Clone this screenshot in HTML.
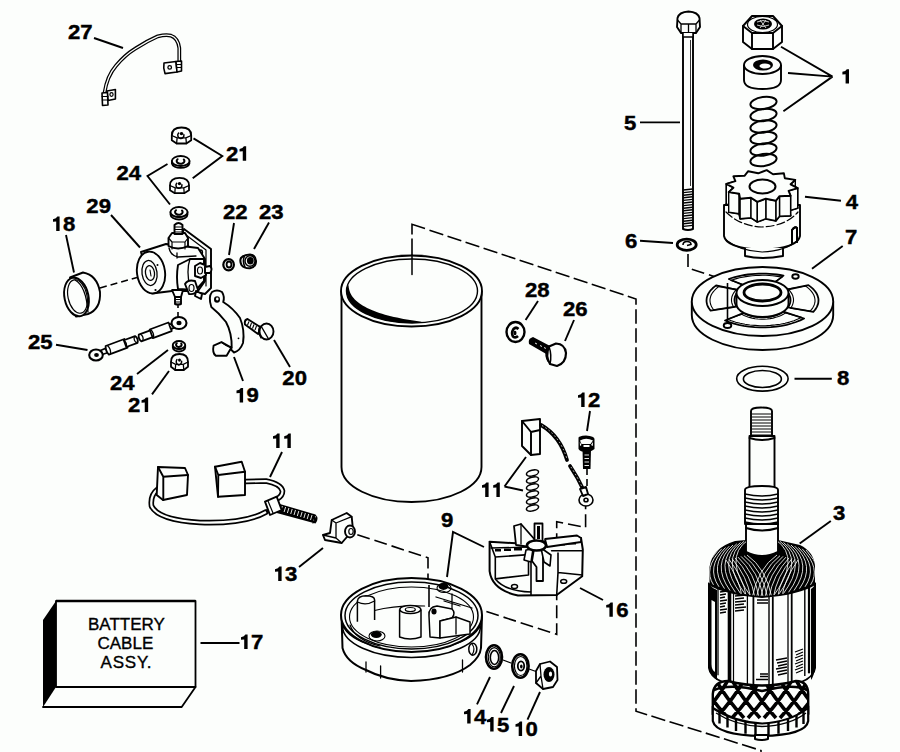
<!DOCTYPE html>
<html><head><meta charset="utf-8">
<style>
html,body{margin:0;padding:0;background:#fcfefc;width:900px;height:752px;overflow:hidden}
svg{display:block}
.lb{font-family:"Liberation Sans",sans-serif;font-weight:bold;font-size:21.5px;fill:#000;stroke:#000;stroke-width:0.45}
.bx{font-family:"Liberation Sans",sans-serif;font-size:17px;fill:#000;stroke:#000;stroke-width:0.35}
.s{fill:none;stroke:#000;stroke-width:1.9;stroke-linejoin:round;stroke-linecap:round}
.w{fill:#fcfefc;stroke:#000;stroke-width:1.9;stroke-linejoin:round}
.t{fill:none;stroke:#000;stroke-width:1}
.k{fill:#000;stroke:none}
.d{fill:none;stroke:#000;stroke-width:1.6}
.ld{fill:none;stroke:#000;stroke-width:1.9;stroke-linecap:butt}
</style></head><body>
<svg width="900" height="752" viewBox="0 0 900 752">
<!-- DASHED -->
<g class="d">
<path d="M412,274.5 L412,238.5"/>
<path d="M412,234.5 L412,224.3 L425,228.6"/>
<path d="M429.5,230.2 L636,299 L636,711.2 L761,750.5 L761,760" stroke-dasharray="14.5 4.5"/>
<path d="M688,254 L688,268 L727.6,281 L727.6,327" stroke-dasharray="13 5"/>
<path d="M100,288 L137,277.5" stroke-dasharray="7 4"/>
<path d="M178,302 L178,318" stroke-dasharray="6 4"/>
<path d="M357.3,534.7 L428,557.8 L428,612" stroke-dasharray="13 5"/>
<path d="M435,595 L556.7,634.3 L556.7,521.7 L585.6,527.4 L585.6,505" stroke-dasharray="13 5"/>
<path d="M587,468 L587,492" stroke-dasharray="7 4"/>
</g>
<!-- RIGHT COLUMN -->
<g id="bolt5">
<path class="w" d="M683,33 L683,229 Q688,231 693,229 L693,33 Z"/>
<path stroke="#000" stroke-width="1.4" fill="none" d="M683.5,190.0 L692.5,189.0 M683.5,192.6 L692.5,191.6 M683.5,195.2 L692.5,194.2 M683.5,197.8 L692.5,196.8 M683.5,200.4 L692.5,199.4 M683.5,203.0 L692.5,202.0 M683.5,205.6 L692.5,204.6 M683.5,208.2 L692.5,207.2 M683.5,210.8 L692.5,209.8 M683.5,213.4 L692.5,212.4 M683.5,216.0 L692.5,215.0 M683.5,218.6 L692.5,217.6 M683.5,221.2 L692.5,220.2 M683.5,223.8 L692.5,222.8 M683.5,226.4 L692.5,225.4 "/>
<path stroke="#000" stroke-width="0.8" fill="none" d="M690.5,40 L690.5,186"/>
<path class="w" d="M677.5,18 Q679,12 688.5,11.5 Q698,12 699.5,18 L700,27 L696,33 L681,33 L677,27 Z"/>
<path class="s" style="stroke-width:1.3" d="M677.5,20 L681,24 L696,24 L699.5,20 M681,24 L681,33 M696,24 L696,33 M688.5,24 L688.5,33"/>
<path class="w" style="stroke-width:1.5" d="M683,33 L683,37 L693,37 L693,33"/>
</g>
<g id="nut1">
<path class="w" d="M743,26 L752,16 L773,16 L782,26 L782,42 L773,49 L752,49 L743,42 Z"/>
<path class="s" d="M743,26 L752,33 L773,33 L782,26 M752,33 L752,49 M773,33 L773,49"/>
<ellipse class="s" cx="762.5" cy="24.5" rx="15" ry="8" style="stroke-width:1.2"/>
<ellipse class="k" cx="763" cy="24" rx="9" ry="5.5"/>
<path d="M757,22 q6,-3 12,0 M757,25 q6,3 12,0 M760,20 l6,8 M766,20 l-6,8" stroke="#fcfefc" stroke-width="0.8" fill="none"/>
</g>
<g id="spacer1">
<path class="w" d="M744,65 L744,80 Q744,89 762.5,89 Q781,89 781,80 L781,65"/>
<ellipse class="w" cx="762.5" cy="65" rx="18.5" ry="9"/>
<ellipse cx="763" cy="65" rx="10" ry="5.5" fill="#000"/>
<ellipse cx="765" cy="66" rx="5.5" ry="2.6" fill="#fcfefc"/>
</g>
<g id="spring1" class="s">
<ellipse cx="763.5" cy="103.0" rx="13.2" ry="6" transform="rotate(-8 763.5 103.0)"/>
<ellipse cx="763.5" cy="115.0" rx="13.2" ry="6" transform="rotate(-8 763.5 115.0)"/>
<ellipse cx="763.5" cy="126.5" rx="13.2" ry="6" transform="rotate(-8 763.5 126.5)"/>
<ellipse cx="763.5" cy="138.0" rx="13.2" ry="6" transform="rotate(-8 763.5 138.0)"/>
<ellipse cx="763.5" cy="149.5" rx="13.2" ry="6" transform="rotate(-8 763.5 149.5)"/>
<ellipse cx="763.5" cy="160.0" rx="13.2" ry="6" transform="rotate(-8 763.5 160.0)"/>
</g>
<g id="pinion4">
<path class="w" d="M724,205 L724,236 Q726,248 762,250 Q798,248 800,236 L800,205 Z"/>
<path class="w" d="M745,248 L745,256 Q762,260 783,256 L783,248"/>
<path class="s" style="stroke-width:1.2" d="M726,240 Q740,251 762,252 Q786,251 798,240"/>
<path class="s" d="M792,230 L792,244 M797,228 L797,242 M792,230 Q795,226 797,228"/>
<polygon class="w" points="766.7,190.1 773.0,194.2 783.9,193.3 784.8,198.2 795.3,199.9 790.6,204.3 797.7,208.1 788.6,210.9 790.6,215.7 779.5,216.2 775.8,220.8 765.8,218.7 757.3,221.9 751.0,217.8 740.1,218.7 739.2,213.8 728.7,212.1 733.4,207.7 726.3,203.9 735.4,201.1 733.4,196.3 744.5,195.8 748.2,191.2 758.2,193.3"/>
<polygon class="w" style="stroke-width:1.4" points="795.3,179.9 790.6,184.3 790.6,204.3 795.3,199.9"/>
<polygon class="w" style="stroke-width:1.4" points="726.3,183.9 735.4,181.1 735.4,201.1 726.3,203.9"/>
<polygon class="w" style="stroke-width:1.4" points="733.4,187.7 726.3,183.9 726.3,203.9 733.4,207.7"/>
<polygon class="w" style="stroke-width:1.4" points="790.6,184.3 797.7,188.1 797.7,208.1 790.6,204.3"/>
<polygon class="w" style="stroke-width:1.4" points="797.7,188.1 788.6,190.9 788.6,210.9 797.7,208.1"/>
<polygon class="w" style="stroke-width:1.4" points="728.7,192.1 733.4,187.7 733.4,207.7 728.7,212.1"/>
<polygon class="w" style="stroke-width:1.4" points="739.2,193.8 728.7,192.1 728.7,212.1 739.2,213.8"/>
<polygon class="w" style="stroke-width:1.4" points="788.6,190.9 790.6,195.7 790.6,215.7 788.6,210.9"/>
<polygon class="w" style="stroke-width:1.4" points="790.6,195.7 779.5,196.2 779.5,216.2 790.6,215.7"/>
<polygon class="w" style="stroke-width:1.4" points="740.1,198.7 739.2,193.8 739.2,213.8 740.1,218.7"/>
<polygon class="w" style="stroke-width:1.4" points="751.0,197.8 740.1,198.7 740.1,218.7 751.0,217.8"/>
<polygon class="w" style="stroke-width:1.4" points="779.5,196.2 775.8,200.8 775.8,220.8 779.5,216.2"/>
<polygon class="w" style="stroke-width:1.4" points="775.8,200.8 765.8,198.7 765.8,218.7 775.8,220.8"/>
<polygon class="w" style="stroke-width:1.4" points="757.3,201.9 751.0,197.8 751.0,217.8 757.3,221.9"/>
<polygon class="w" style="stroke-width:1.4" points="765.8,198.7 757.3,201.9 757.3,221.9 765.8,218.7"/>
<polygon class="w" points="766.7,170.1 773.0,174.2 783.9,173.3 784.8,178.2 795.3,179.9 790.6,184.3 797.7,188.1 788.6,190.9 790.6,195.7 779.5,196.2 775.8,200.8 765.8,198.7 757.3,201.9 751.0,197.8 740.1,198.7 739.2,193.8 728.7,192.1 733.4,187.7 726.3,183.9 735.4,181.1 733.4,176.3 744.5,175.8 748.2,171.2 758.2,173.3"/>
<ellipse class="s" cx="762.5" cy="186.5" rx="13" ry="7" style="stroke-width:2"/>
<path class="s" style="stroke-width:1.2" stroke-dasharray="8 3" d="M726,212 Q740,226 762,227 Q786,226 798,212"/>
<path class="s" d="M792,230 L792,244 M797,228 L797,242 M792,230 Q795,226 797,228"/>
</g>
<g id="washer6">
<ellipse fill="#fcfefc" stroke="#000" stroke-width="2.8" cx="686.7" cy="244.7" rx="9.5" ry="5.6"/>
<path fill="none" stroke="#000" stroke-width="1.6" d="M683,245 Q683,241.5 687,241.5 Q691,241.5 691,244.5 L687,245.5"/>
</g>
<g id="plate7">
<path class="w" d="M691.8,301.5 L691.8,315 A70.7,35 0 0 0 833.2,315 L833.2,301.5"/>
<ellipse class="w" cx="762.5" cy="301.5" rx="70.7" ry="34.5"/>
<polygon fill="none" stroke="#000" stroke-width="1.8" stroke-linejoin="round" points="808.4,285.1 810.4,286.6 812.2,288.1 813.8,289.7 815.1,291.3 816.3,293.0 817.2,294.7 817.8,296.4 818.3,298.2 818.5,299.9 818.4,301.7 818.2,303.4 817.6,305.2 816.9,306.9 815.9,308.6 814.7,310.2 813.3,311.9 787.9,307.3 788.6,306.3 789.2,305.2 789.7,304.1 790.1,303.0 790.3,301.9 790.5,300.8 790.5,299.6 790.4,298.5 790.2,297.4 789.8,296.2 789.4,295.1 788.8,294.1 788.1,293.0 787.3,292.0 786.4,291.0 785.4,290.0"/>
<polygon fill="none" stroke="#000" stroke-width="1.1" stroke-linejoin="round" points="805.5,286.0 807.4,287.4 809.1,288.9 810.6,290.4 811.8,291.9 812.9,293.4 813.8,295.0 814.4,296.7 814.8,298.3 815.0,300.0 815.0,301.6 814.7,303.2 814.2,304.9 813.5,306.5 812.6,308.1 811.4,309.6 810.1,311.1 790.6,308.1 791.4,307.0 792.1,305.8 792.6,304.6 793.0,303.3 793.3,302.1 793.5,300.8 793.5,299.6 793.4,298.3 793.1,297.1 792.8,295.8 792.3,294.6 791.6,293.4 790.9,292.3 790.0,291.1 789.0,290.0 787.9,289.0"/>
<polygon fill="none" stroke="#000" stroke-width="1.8" stroke-linejoin="round" points="804.1,318.5 800.2,320.4 796.0,322.0 791.4,323.5 786.6,324.8 781.5,325.8 776.3,326.6 770.9,327.1 765.4,327.3 759.9,327.4 754.5,327.1 749.1,326.6 743.8,325.8 738.7,324.8 733.9,323.6 729.3,322.1 725.0,320.5 743.8,312.9 745.9,314.0 748.2,314.9 750.6,315.7 753.2,316.4 755.8,316.9 758.5,317.2 761.2,317.3 764.0,317.3 766.7,317.2 769.4,316.8 772.0,316.3 774.6,315.7 777.0,314.9 779.3,313.9 781.4,312.8 783.3,311.6"/>
<polygon fill="none" stroke="#000" stroke-width="1.1" stroke-linejoin="round" points="801.5,317.4 797.9,319.1 793.9,320.7 789.6,322.1 785.1,323.2 780.3,324.2 775.4,324.9 770.4,325.4 765.2,325.7 760.1,325.7 755.0,325.4 749.9,325.0 745.0,324.3 740.2,323.3 735.7,322.2 731.4,320.8 727.4,319.2 741.8,314.3 744.1,315.5 746.6,316.5 749.3,317.4 752.2,318.1 755.1,318.7 758.1,319.0 761.1,319.2 764.1,319.2 767.1,319.0 770.1,318.6 773.0,318.1 775.8,317.3 778.5,316.5 781.0,315.4 783.4,314.2 785.5,312.9"/>
<polygon fill="none" stroke="#000" stroke-width="1.8" stroke-linejoin="round" points="710.6,310.6 709.4,309.0 708.4,307.5 707.6,305.9 707.0,304.2 706.7,302.6 706.5,301.0 706.6,299.3 706.8,297.7 707.3,296.1 707.9,294.5 708.8,292.9 709.9,291.3 711.1,289.8 712.6,288.3 714.2,286.9 716.1,285.5 739.3,290.3 738.4,291.2 737.6,292.1 736.8,293.1 736.2,294.1 735.7,295.1 735.2,296.1 734.9,297.1 734.7,298.2 734.5,299.2 734.5,300.3 734.6,301.4 734.8,302.4 735.1,303.5 735.5,304.5 735.9,305.5 736.5,306.5"/>
<polygon fill="none" stroke="#000" stroke-width="1.1" stroke-linejoin="round" points="713.8,309.9 712.7,308.5 711.8,307.0 711.1,305.5 710.5,304.0 710.2,302.5 710.0,300.9 710.0,299.4 710.3,297.9 710.7,296.3 711.3,294.8 712.2,293.3 713.2,291.9 714.4,290.5 715.7,289.1 717.3,287.7 719.0,286.4 736.8,289.3 735.8,290.2 734.9,291.3 734.1,292.3 733.4,293.4 732.8,294.5 732.3,295.7 731.9,296.8 731.7,298.0 731.5,299.2 731.5,300.3 731.6,301.5 731.8,302.7 732.1,303.8 732.6,305.0 733.1,306.1 733.8,307.2"/>
<polygon fill="none" stroke="#000" stroke-width="1.8" stroke-linejoin="round" points="728.8,279.0 731.7,278.0 734.8,277.1 738.0,276.3 741.3,275.6 744.7,275.0 748.1,274.5 751.6,274.1 755.2,273.8 758.8,273.7 762.4,273.6 766.0,273.7 769.6,273.8 773.1,274.1 776.6,274.5 780.1,275.0 783.5,275.6 773.0,283.9 771.3,283.5 769.6,283.2 767.8,283.0 766.0,282.8 764.2,282.7 762.4,282.6 760.6,282.7 758.8,282.8 757.1,283.0 755.3,283.2 753.6,283.5 751.9,283.9 750.3,284.4 748.7,284.9 747.1,285.5 745.6,286.1"/>
<polygon fill="none" stroke="#000" stroke-width="1.1" stroke-linejoin="round" points="730.9,280.4 733.7,279.4 736.5,278.6 739.5,277.8 742.6,277.2 745.8,276.6 749.0,276.1 752.3,275.8 755.6,275.5 759.0,275.4 762.4,275.3 765.8,275.3 769.1,275.5 772.5,275.8 775.8,276.1 779.0,276.6 782.2,277.1 774.1,282.2 772.2,281.8 770.3,281.4 768.4,281.1 766.4,280.9 764.4,280.8 762.4,280.8 760.4,280.8 758.5,280.9 756.5,281.1 754.5,281.4 752.6,281.8 750.8,282.2 748.9,282.7 747.2,283.3 745.5,283.9 743.8,284.7"/>
<path class="w" d="M736.5,293 L736.5,304 A26,13 0 0 0 788.5,304 L788.5,293"/>
<ellipse class="w" cx="762.5" cy="293" rx="26" ry="13"/>
<ellipse cx="762.5" cy="292.5" rx="18.5" ry="8.5" fill="#fcfefc" stroke="#000" stroke-width="2.8"/>
<ellipse class="s" cx="795.5" cy="276.5" rx="3.2" ry="2.2"/>
<ellipse class="s" cx="727.5" cy="325.5" rx="3.8" ry="2.5"/>
<path class="d" d="M727.5,283 L727.5,323"/>
</g>
<g id="washer8">
<path fill="#fcfefc" stroke="#000" stroke-width="1.6" fill-rule="evenodd" d="M736.7,378.7 A25.7,12.4 0 1 0 788.1,378.7 A25.7,12.4 0 1 0 736.7,378.7 Z M743.4,379 A19,8.5 0 1 0 781.4,379 A19,8.5 0 1 0 743.4,379 Z"/>
</g>
<g id="armature3">
<path class="w" d="M751,411 Q751,407.5 761,407.5 Q772,407.5 772,411 L772,438 L751,438 Z"/>
<path class="t" d="M752,414 h19M752,417 h19M752,420 h19M752,423 h19M752,426 h19M752,429 h19M752,432 h19M752,435 h19"/>
<path class="w" d="M749.5,436 L749.5,487 L774.5,487 L774.5,436 Z"/>
<path class="s" d="M749.5,438 Q762,442 774.5,438"/>
<path class="w" d="M745,490 Q745,486 762,486 Q778,486 778,490 L778,524 L745,524 Z"/>
<path class="s" style="stroke-width:1.4" d="M745,494 Q762,498 778,494 M745,498 Q762,502 778,498 M745,502 Q762,506 778,502 M745,506 Q762,510 778,506 M745,510 Q762,514 778,510 M745,514 Q762,518 778,514 M745,518 Q762,522 778,518 M745,522 Q762,526 778,522 "/>
<path class="w" d="M746,524 L746,556 L778,556 L778,524 Z"/>
<path class="s" d="M746,528 Q762,533 778,528"/>
<path class="k" d="M709.5,590 L709.5,567 Q712,548 735,541 L746,540 Q746,550 746,552 Q762,560 778,552 L778,540 L800,545 Q814,552 815,566 L815,590 Q800,596 762,597 Q724,596 709.5,590 Z"/>
<clipPath id="domeclip"><path d="M709.5,590 L709.5,567 Q712,548 735,541 L746,540 Q746,550 746,552 Q762,560 778,552 L778,540 L800,545 Q814,552 815,566 L815,590 Q800,596 762,597 Q724,596 709.5,590 Z"/></clipPath>
<path clip-path="url(#domeclip)" stroke="#fcfefc" stroke-width="0.85" fill="none" d="M748.0,540.0 Q722.0,558.0 752.0,598.0 M744.2,541.2 Q719.2,559.5 746.5,596.1 M740.5,542.5 Q716.5,561.0 741.0,594.2 M736.8,543.8 Q713.8,562.5 735.5,592.4 M733.0,545.0 Q711.0,564.0 730.0,590.5 M729.2,546.2 Q708.2,565.5 724.5,588.6 M725.5,547.5 Q705.5,567.0 719.0,586.8 M721.8,548.8 Q702.8,568.5 713.5,584.9 M718.0,550.0 Q700.0,570.0 708.0,583.0 M747.0,555.0 Q766.0,568.0 772.0,598.0 M744.0,555.7 Q762.3,569.7 767.7,597.9 M741.0,556.4 Q758.6,571.4 763.4,597.7 M738.0,557.1 Q754.9,573.1 759.1,597.6 M735.0,557.9 Q751.1,574.9 754.9,597.4 M732.0,558.6 Q747.4,576.6 750.6,597.3 M729.0,559.3 Q743.7,578.3 746.3,597.1 M726.0,560.0 Q740.0,580.0 742.0,597.0 M777.0,555.0 Q758.0,568.0 752.0,598.0 M780.0,555.7 Q761.7,569.7 756.3,597.9 M783.0,556.4 Q765.4,571.4 760.6,597.7 M786.0,557.1 Q769.1,573.1 764.9,597.6 M789.0,557.9 Q772.9,574.9 769.1,597.4 M792.0,558.6 Q776.6,576.6 773.4,597.3 M795.0,559.3 Q780.3,578.3 777.7,597.1 M798.0,560.0 Q784.0,580.0 782.0,597.0 M776.0,540.0 Q802.0,558.0 772.0,598.0 M779.8,541.2 Q804.8,559.5 777.5,596.1 M783.5,542.5 Q807.5,561.0 783.0,594.2 M787.2,543.8 Q810.2,562.5 788.5,592.4 M791.0,545.0 Q813.0,564.0 794.0,590.5 M794.8,546.2 Q815.8,565.5 799.5,588.6 M798.5,547.5 Q818.5,567.0 805.0,586.8 M802.2,548.8 Q821.2,568.5 810.5,584.9 M806.0,550.0 Q824.0,570.0 816.0,583.0"/>
<path class="s" d="M746,552 Q762,560 778,552" style="stroke-width:2"/>
<path fill="#fcfefc" stroke="#000" stroke-width="2" d="M709,584 L709,668 Q711,686 762,689 Q813,686 815,668 L815,584 Q800,594 762,597 Q724,594 709,584 Z"/>
<path class="k" d="M709,584 Q712,588 717,590 L717,680 Q710,676 709,668 Z"/>
<path fill="#fcfefc" d="M711.5,600 L715,602 L715,672 Q711.5,670 711.5,664 Z"/>
<path class="k" d="M811,589 Q814,587 815,584 L815,668 Q814,676 811,680 Z"/>
<path d="M718.0,588.0 L718.0,675.2" stroke="#000" stroke-width="1.3"/>
<path d="M729.5,592.1 L729.5,681.5" stroke="#000" stroke-width="3.6"/>
<path d="M733.5,593.2 L733.5,683.2" stroke="#000" stroke-width="1.2"/>
<path d="M747.4,596.0 L747.4,687.5" stroke="#000" stroke-width="1.3"/>
<path d="M753.4,596.7 L753.4,688.5" stroke="#000" stroke-width="1.8"/>
<path d="M769.0,596.8 L769.0,688.7" stroke="#000" stroke-width="1.4"/>
<path d="M772.8,596.5 L772.8,688.2" stroke="#000" stroke-width="1.8"/>
<path d="M788.0,593.9 L788.0,684.2" stroke="#000" stroke-width="1.3"/>
<path d="M791.7,592.9 L791.7,682.7" stroke="#000" stroke-width="1.8"/>
<path d="M804.8,588.5 L804.8,676.0" stroke="#000" stroke-width="1.4"/>
<path d="M809.0,586.8 L809.0,673.3" stroke="#000" stroke-width="2.2"/>
<path stroke="#000" stroke-width="1.3" fill="none" d="M720,592 L727,591 M720,595 L726,594 M720,598 L725,597 M720,601 L727,600 M720,604 L726,603 M720,607 L725,606 M720,610 L727,609 M720,613 L726,612 M735,596 L746,595 M735,599 L744,598 M735,602 L746,601 M735,605 L744,604 M735,608 L746,607 M735,611 L744,610 M757,600 h11 M757,603 h11 M795,652 L803,649 M796,655 L803,652 M795,658 L803,655 M796,661 L803,658 M795,664 L803,661 M796,667 L803,664 M795,670 L803,667 M796,673 L803,670 M776,660 L787,658 M777,663 L787,661 M778,666 L787,664 M776,669 L787,667 M777,672 L787,670 M778,675 L787,673 M760,674 h8 M760,676.5 h8 M756,679.5 h12"/>
<path fill="#fcfefc" stroke="#000" stroke-width="2.4" d="M712.8,694 Q714,681 728,681 Q762,690 796,681 Q808,681 808.2,694 L808.2,714 Q790,727 762,729 Q734,727 712.8,714 Z"/>
<clipPath id="commclip"><path d="M712.8,694 Q714,681 728,681 Q762,690 796,681 Q808,681 808.2,694 L808.2,714 Q790,727 762,729 Q734,727 712.8,714 Z"/></clipPath>
<path clip-path="url(#commclip)" stroke="#000" stroke-width="3.6" fill="none" d="M620.0,680 Q629.0,697 648.0,718 M648.0,680 Q639.0,697 620.0,718 M636.0,680 Q645.0,697 664.0,718 M664.0,680 Q655.0,697 636.0,718 M652.0,680 Q661.0,697 680.0,718 M680.0,680 Q671.0,697 652.0,718 M668.0,680 Q677.0,697 696.0,718 M696.0,680 Q687.0,697 668.0,718 M684.0,680 Q693.0,697 712.0,718 M712.0,680 Q703.0,697 684.0,718 M700.0,680 Q709.0,697 728.0,718 M728.0,680 Q719.0,697 700.0,718 M716.0,680 Q725.0,697 744.0,718 M744.0,680 Q735.0,697 716.0,718 M732.0,680 Q741.0,697 760.0,718 M760.0,680 Q751.0,697 732.0,718 M748.0,680 Q757.0,697 776.0,718 M776.0,680 Q767.0,697 748.0,718 M764.0,680 Q773.0,697 792.0,718 M792.0,680 Q783.0,697 764.0,718 M780.0,680 Q789.0,697 808.0,718 M808.0,680 Q799.0,697 780.0,718 M796.0,680 Q805.0,697 824.0,718 M824.0,680 Q815.0,697 796.0,718 M812.0,680 Q821.0,697 840.0,718 M840.0,680 Q831.0,697 812.0,718 M828.0,680 Q837.0,697 856.0,718 M856.0,680 Q847.0,697 828.0,718"/>
<path class="s" style="stroke-width:2.6" d="M714,690 Q730,683 762,691 Q794,683 807,690"/>
<path fill="#fcfefc" stroke="#000" stroke-width="2.2" d="M712.8,708 L712.8,721 Q716,735 762,736 Q806,735 808.2,721 L808.2,708 Q790,722 762,723.5 Q734,722 712.8,708 Z"/>
<path stroke="#000" stroke-width="2.4" fill="none" d="M719.5,711.0 L719.5,723.5 M727.5,715.1 L727.5,727.6 M736.0,718.5 L736.0,731.0 M745.5,721.2 L745.5,733.7 M755.5,722.7 L755.5,735.2 M768.5,722.7 L768.5,735.2 M778.5,721.2 L778.5,733.7 M788.0,718.5 L788.0,731.0 M796.5,715.1 L796.5,727.6 M803.5,711.6 L803.5,724.1"/>
<path fill="none" stroke="#000" stroke-width="1.3" d="M716,713 Q735,725.5 762,726.5 Q790,725.5 806,713"/>
<path class="w" style="stroke-width:2" d="M755,735 L755,739 Q761,741 768,739 L768,735 Z"/>
</g>
<!-- MIDDLE -->
<g id="frame">
<path class="w" d="M341.5,291 L341.5,467 A70,35 0 0 0 481.5,467 L481.5,291"/>
<ellipse class="w" cx="411.5" cy="291" rx="70.5" ry="35.5"/>
<ellipse style="stroke-width:1.4" class="s" cx="412" cy="291" rx="65.5" ry="32"/>
<path class="k" d="M347.9,284.3 L347.3,286.1 L346.8,287.8 L346.6,289.5 L346.5,291.2 L346.6,293.0 L346.9,294.7 L347.5,296.4 L348.2,298.1 L349.0,299.8 L350.1,301.5 L351.4,303.1 L352.8,304.7 L354.4,306.2 L356.2,307.7 L358.1,309.2 L360.2,310.6 L362.5,311.9 L364.9,313.2 L367.4,314.4 L370.1,315.6 L372.9,316.7 L375.8,317.7 L378.8,318.6 L381.9,319.4 L385.1,320.2 L388.4,320.9 L391.8,321.4 L395.2,321.9 L398.6,322.3 L402.1,322.6 L405.7,322.8 L409.2,323.0 L412.8,323.0 L416.3,322.9 L419.9,322.8 L423.4,322.5 L423.4,322.5 L420.0,321.4 L416.6,320.9 L413.3,320.4 L410.0,320.0 L406.7,319.4 L403.4,318.9 L400.2,318.3 L397.0,317.6 L393.9,317.0 L390.9,316.2 L387.9,315.5 L385.0,314.7 L382.1,313.8 L379.4,312.9 L376.7,312.0 L374.2,311.0 L371.7,310.0 L369.4,309.0 L367.1,307.9 L365.0,306.8 L363.0,305.7 L361.1,304.5 L359.3,303.3 L357.7,302.0 L356.2,300.8 L354.8,299.4 L353.6,298.1 L352.5,296.7 L351.5,295.3 L350.7,293.8 L350.1,292.4 L349.5,290.8 L349.1,289.3 L348.8,287.7 L348.6,286.1 L347.9,284.3 Z"/>
<path style="stroke-width:1.5" class="s" d="M412,274.5 L412,255"/>
</g>
<g id="endcap">
<path class="w" style="stroke-width:2" d="M341.5,615 L342.5,648 Q346,662 366,670 Q385,680 411,681 Q450,680 470,665 Q480,657 481,648 L482,615"/>
<path class="s" style="stroke-width:1.5" d="M342,620 A69.5,31 0 0 0 481,620 M342.5,626 A69,31.5 0 0 0 480.5,626"/>
<path class="s" style="stroke-width:1.3" d="M366,662 L366,672 M380.6,666 L380.6,678 M462.5,660 L462.5,672"/>
<ellipse class="w" style="stroke-width:2" cx="411.5" cy="615" rx="70.5" ry="37"/>
<ellipse class="s" cx="411.5" cy="615.5" rx="66.5" ry="33.5" style="stroke-width:1.5"/>
<ellipse class="s" cx="411.5" cy="617" rx="62" ry="30" style="stroke-width:1.1"/>
<path class="s" style="stroke-width:1.2" d="M374.6,610.5 Q395,605 424.6,606 M350,625 Q355,640 380,646"/>
<path class="w" style="stroke-width:1.5" d="M357.4,621.7 L357.4,601 Q358,596 366,595.8 Q374.6,596 374.6,600 L374.6,620"/>
<path class="s" style="stroke-width:1.2" d="M357.4,602 Q366,606 374.6,601"/>
<path class="s" style="stroke-width:1.3" d="M436,597 L472,608 M452,594 L452,612 M444,601 L460,606"/>
<path class="w" style="stroke-width:1.5" d="M429,616 Q428,607 437,606 L452,609 Q456,613 452,618 L440,621 L440,638 L430,637 Z"/>
<path class="w" style="stroke-width:1.5" d="M440,621 L456,617 L470,622 L470,634 L440,638 Z"/>
<path class="s" style="stroke-width:1.3" d="M456,617 L456,634"/>
<ellipse class="k" cx="434" cy="611.5" rx="2.6" ry="3"/>
<path class="w" style="stroke-width:1.5" d="M399.6,609.5 L399.6,637 Q410,641 421,637 L421,609.5"/>
<ellipse class="w" cx="410.3" cy="609.5" rx="10.5" ry="4" style="stroke-width:1.5"/>
<ellipse class="s" cx="410.3" cy="609.5" rx="5" ry="2" style="stroke-width:1.2"/>
<ellipse class="k" cx="443.5" cy="586.4" rx="5" ry="3.5"/>
<ellipse class="s" cx="444" cy="588" rx="7" ry="4.5" style="stroke-width:1.1"/>
<ellipse class="k" cx="376.3" cy="634.6" rx="5.5" ry="3.5"/>
<ellipse class="s" cx="377" cy="636" rx="8" ry="5" style="stroke-width:1.1"/>
<ellipse class="w" cx="472.8" cy="649.2" rx="4" ry="6" style="stroke-width:1.5"/>
<path class="s" style="stroke-width:1.2" d="M472,644 Q476,649 472,655"/>
<path class="d" d="M429,585 L429,607"/>
</g>
<g id="brushplate16">
<path class="w" style="stroke-width:2" d="M489.6,541.8 L489.6,571.2 Q492,590 518,595.5 L556.7,595 L582.2,576.3 L582.8,549.5 L581,538 L549,541 L523.4,543.7 Z"/>
<path class="s" style="stroke-width:1.6" d="M489.6,541.8 L495.3,557 L495.3,578.9 M495.3,557 L528.5,554.6 L528.5,575 L495.3,578.9 M551.6,550.8 L582.2,550.8 M558,553 L558,572.5 L582.2,575 M495.3,578.9 Q505,591 531,592 M558,572.5 L556.7,595 M531,557 L531,595"/>
<path class="s" style="stroke-width:1.3" d="M491,548 L530,547 M546,545 L581,541"/>
<path class="k" d="M495,549 h6 v2.5 h-6 Z M504,548.5 h7 v2.5 h-7 Z M514,548 h8 v2.5 h-8 Z M558,543 h7 v2.5 h-7 Z M568,542 h8 v2.5 h-8 Z"/>
<path class="w" style="stroke-width:1.8" d="M514,526 L521,524 L536,541 L530,547 L516,545 Z"/>
<path class="s" style="stroke-width:1.3" d="M521,524 L521,544"/>
<path class="w" style="stroke-width:1.8" d="M534.5,523.5 L542.5,523.5 L542.5,541 L534.5,541 Z"/>
<path class="k" d="M537,526 h3 v13 h-3 Z"/>
<path class="w" style="stroke-width:1.8" d="M545,539 L577,535.5 L581,538 L581,542 L547,547 Z"/>
<path class="w" style="stroke-width:1.8" d="M534,549 L543,549 L543,581 L536.5,581 L536.5,567 L532,561 Z"/>
<path class="w" style="stroke-width:1.6" d="M541,548 L551,555 L550,566 L544,562 Z"/>
<path class="w" style="stroke-width:1.6" d="M526,550 L533,549 L531,562 L524,560 Z"/>
<ellipse cx="536.5" cy="545.5" rx="9.5" ry="5" fill="#fcfefc" stroke="#000" stroke-width="2.6"/>
<ellipse class="s" cx="514.5" cy="586.5" rx="3" ry="2" style="stroke-width:1.5"/>
<ellipse class="s" cx="563.7" cy="581.4" rx="3" ry="1.8" style="stroke-width:1.5"/>
</g>
<g id="washers">
<path class="s" d="M503,660 L511,663 M529,669 L536,671.5" style="stroke-width:1.3"/>
<ellipse fill="#fcfefc" stroke="#000" stroke-width="2.6" cx="494" cy="657" rx="8" ry="11.8"/>
<ellipse fill="none" stroke="#000" stroke-width="1.1" cx="494.3" cy="657.2" rx="6" ry="9.6"/>
<ellipse fill="#fcfefc" stroke="#000" stroke-width="1.6" cx="494.5" cy="657.5" rx="4.2" ry="7"/>
<ellipse fill="#fcfefc" stroke="#000" stroke-width="2.6" cx="520.4" cy="666" rx="8.2" ry="11.7"/>
<ellipse fill="none" stroke="#000" stroke-width="1.2" cx="520.7" cy="666" rx="6.3" ry="9.5"/>
<ellipse fill="#fcfefc" stroke="#000" stroke-width="1.8" cx="521" cy="666" rx="3.2" ry="4.6"/>
<ellipse fill="#000" cx="521.3" cy="666.5" rx="1.3" ry="2"/>
<path class="w" style="stroke-width:1.8" d="M536,671 L540,664 L550,661.5 L557,667 L557.5,680 L553,687 L543,689 L536,683 Z"/>
<path class="s" style="stroke-width:1.3" d="M540,664 L541,676 L536,683 M541,676 L543,689"/>
<ellipse class="k" cx="549" cy="674.5" rx="5.5" ry="7.5"/>
<ellipse fill="#fcfefc" cx="550.5" cy="674" rx="1.6" ry="2.6"/>
</g>
<g id="p28">
<ellipse class="w" cx="515.5" cy="332" rx="9" ry="10" style="stroke-width:2.4"/>
<path fill="none" stroke="#000" stroke-width="2.6" d="M518.5,329 Q516,326.5 513.5,329 Q511,333 513,336.5 Q515.5,338.5 518,336"/>
<ellipse class="k" cx="515" cy="333" rx="1.5" ry="2.2"/>
</g>
<g id="p26">
<path class="k" d="M531,338 Q528,339 529,344 L548,355 L552,347 L533,337 Z"/>
<path d="M535,343 l2,1 M540,345.5 l2,1 M544,347.5 l2,1" stroke="#fcfefc" stroke-width="0.9"/>
<path class="w" style="stroke-width:2.2" d="M549,346.5 L556,343.5 Q565,344 566,353 Q566,363 557,366 L550,364 Q545,356 549,346.5 Z"/>
<path class="s" style="stroke-width:1.5" d="M549,346.5 Q552,355 550,364 M546.5,349 Q545,356 548,361"/>
</g>
<g id="brush12">
<path class="w" d="M522,421 L540,419 L540,454 L531,455 L522,446 Z"/>
<path class="s" d="M522,421 L531,432 L540,430 M531,432 L531,455"/>
<path d="M541,425 Q560,436 567,460 M570,466 Q578,478 583,489" stroke="#000" stroke-width="3.8" fill="none" stroke-linecap="round"/>
<path d="M542,425.5 Q560,436 567,459 M571,467 Q578,478 582.5,488" stroke="#fcfefc" stroke-width="0.8" fill="none" stroke-dasharray="1.5 2.5"/>
<path fill="#fcfefc" stroke="#000" stroke-width="1.6" fill-rule="evenodd" d="M579,500 A7,6 0 1 0 593,500 A7,6 0 1 0 579,500 Z M584,500 A2,1.8 0 1 0 588,500 A2,1.8 0 1 0 584,500 Z"/>
<path class="w" d="M580,489 L586,487 L588,494 L583,496 Z"/>
<path class="k" d="M582.5,449 L591,449 L590.5,469 L583,469 Z"/>
<path d="M584.5,455 h4.5 M584.5,458.5 h4.5 M584.5,462 h4.5 M584.5,465.5 h4.5" stroke="#fcfefc" stroke-width="0.9"/>
<path class="k" d="M578.5,438 Q578,436 586,435.5 Q594.5,436 594.5,439 L594.5,449 Q591,452 586,452 Q580,452 578.5,449 Z"/>
<path fill="#fcfefc" d="M580,440.5 Q586,436.8 593,440.5 L590.5,444 L581.5,444 Z M583.5,445 L589.5,445 L589.5,447 L583.5,447 Z M579.8,442 L581.5,445 L580,446 Z M593,442 L591,445 L592.8,446 Z"/>
</g>
<g id="spring11" style="stroke-width:1.5" class="s">
<ellipse cx="532.5" cy="473.0" rx="6.2" ry="2.9" transform="rotate(-14 532.5 473.0)"/>
<ellipse cx="532.5" cy="480.0" rx="6.2" ry="2.9" transform="rotate(-14 532.5 480.0)"/>
<ellipse cx="532.5" cy="487.0" rx="6.2" ry="2.9" transform="rotate(-14 532.5 487.0)"/>
<ellipse cx="532.5" cy="494.0" rx="6.2" ry="2.9" transform="rotate(-14 532.5 494.0)"/>
<ellipse cx="532.5" cy="501.0" rx="6.2" ry="2.9" transform="rotate(-14 532.5 501.0)"/>
<ellipse cx="532.5" cy="508.0" rx="6.2" ry="2.9" transform="rotate(-14 532.5 508.0)"/>
</g>
<g id="brushes11L">
<path d="M158,489 Q150,495 151.5,506 Q158,520 200,522.5 Q245,524 266,512 M246,481.5 L266,481 Q281,484 282.5,491 Q282.5,496 277,499" stroke="#000" stroke-width="5.6" fill="none" stroke-linecap="round"/>
<path d="M158,489 Q150,495 151.5,506 Q158,520 200,522.5 Q245,524 266,512 M246,481.5 L266,481 Q281,484 282.5,491 Q282.5,496 277,499" stroke="#fcfefc" stroke-width="2.2" fill="none"/>
<path class="w" d="M158,467 L185,468 L188,475 L187,495 L163,500 L156.7,495 Z"/>
<path class="s" d="M158,467 L163.3,476.7 L188,475 M163.3,476.7 L163.3,500"/>
<path class="w" d="M215,466.7 L241.7,461.7 L245,471.7 L245,495 L218,496.7 Z"/>
<path class="s" d="M215,466.7 L218.3,475 L245,471.7 M218.3,475 L218,496.7"/>
<path class="k" d="M273,502 L315.5,514.5 Q319.5,518.5 315.5,523.5 L273,512 Z"/>
<path stroke="#fcfefc" stroke-width="0.9" fill="none" d="M279.0,505.0 l-1.5,5 M282.3,506.0 l-1.5,5 M285.6,507.0 l-1.5,5 M288.9,508.0 l-1.5,5 M292.2,509.0 l-1.5,5 M295.5,510.0 l-1.5,5 M298.8,511.0 l-1.5,5 M302.1,512.0 l-1.5,5 M305.4,513.0 l-1.5,5 M308.7,514.0 l-1.5,5 M312.0,515.0 l-1.5,5 M315.3,516.0 l-1.5,5"/>
<path class="s" style="stroke-width:1.2" d="M313.5,514.5 Q316,519 313,523"/>
<path class="w" d="M265,501.7 L276.7,496.7 L281.7,510 L270,515 Z"/>
<path class="s" style="stroke-width:1.2" d="M268,501 L273,513"/>
</g>
<g id="term13">
<path class="w" d="M331.7,520 L346.7,513 L351.7,516.7 L353,530 L341.7,543 L325,540 L323,535 L330,533 Z"/>
<path class="s" style="stroke-width:1.3" d="M331.7,520 L336,523 L351.7,516.7 M336,523 L336,538 L341.7,543 M336,538 L323,535"/>
<ellipse class="w" cx="350" cy="531.5" rx="5" ry="6"/>
<ellipse class="s" cx="351" cy="531.5" rx="2.2" ry="3" style="stroke-width:1.2"/>
</g>
<g id="battery17">
<path class="k" d="M43,620 L56,601 L56,687 L43,707 Z"/>
<rect style="stroke-width:1.8" class="w" x="56" y="601" width="139.5" height="86"/>
<path style="stroke-width:1.8" class="s" d="M43,707 L181.7,707 L195.5,687"/>
<path d="M56,601 L195.5,601" stroke="#000" stroke-width="2.5"/>
<g class="bx">
<text x="88" y="629.5">BATTERY</text>
<text x="97.5" y="648.5">CABLE</text>
<text x="100.5" y="667.5" letter-spacing="0.8">ASSY.</text>
</g>
</g>
<!-- LEFT -->
<g id="cable27">
<path d="M104.5,93 Q107,76 116,65.7 Q125,55 135.2,48.7 Q147,41 157.8,36.3 Q166,34.5 171,35.7 Q178,38 179.3,48 L179.3,61" stroke="#000" stroke-width="3.8" fill="none"/>
<path d="M104.5,93 Q107,76 116,65.7 Q125,55 135.2,48.7 Q147,41 157.8,36.3 Q166,34.5 171,35.7 Q178,38 179.3,48 L179.3,61" stroke="#fcfefc" stroke-width="1.3" fill="none"/>
<path class="w" style="stroke-width:1.6" d="M164,63 L176,61.5 L177,72 L165,73.6 Q163,68 164,63 Z"/>
<ellipse class="s" cx="169.7" cy="67.4" rx="1.8" ry="1.8" style="stroke-width:1.3"/>
<path class="w" style="stroke-width:1.6" d="M176,61.5 L181.5,61 L181.5,71 L177,72 Z"/>
<path class="s" style="stroke-width:1.1" d="M176.5,64.5 h5 M176.5,67.5 h5"/>
<path class="w" style="stroke-width:1.6" d="M107,91 L115.4,89.5 L115.4,99 L108,100.5 Z"/>
<ellipse class="s" cx="111.5" cy="94.5" rx="1.6" ry="1.8" style="stroke-width:1.2"/>
<path class="w" style="stroke-width:1.6" d="M102,93 L107.5,92.5 L108,105 L102.5,105.5 Z"/>
<path class="s" style="stroke-width:1.1" d="M102,96.5 h6 M102.3,100 h6"/>
</g>
<g id="nuts21">
<path class="w" style="stroke-width:1.8" d="M171.8,135.5 Q171.8,127.5 181.5,127.5 Q191.2,127.5 191.2,135.5 L191.2,140.3 L186.4,143.5 L176.6,143.5 L171.8,140.3 Z"/>
<path class="s" style="stroke-width:1.3" d="M171.8,135.5 L177.1,137.9 L185.9,137.9 L191.2,135.5 M177.1,137.9 L176.6,143.5 M185.9,137.9 L186.4,143.5"/>
<path class="s" style="stroke-width:1.5" d="M183.9,134.7 A3.1,3.2 0 1 1 178.6,133.1"/>
<ellipse class="k" cx="181.5" cy="133.6" rx="1.8" ry="1.6"/>
<path class="w" style="stroke-width:1.8" d="M171.9,161.0 A8.8,5.0 0 0 0 189.4,161.0 L189.4,163.5 A8.8,5.0 0 0 1 171.9,163.5 Z"/>
<ellipse class="w" style="stroke-width:1.8" cx="180.7" cy="161.0" rx="8.8" ry="5.0"/>
<path class="s" style="stroke-width:2" d="M183.8,159.5 A3.9,2.7 0 1 1 177.6,159.2"/>
<path class="w" style="stroke-width:1.8" d="M170.0,185.5 Q170.0,177.8 179.5,177.8 Q189.0,177.8 189.0,185.5 L189.0,190.2 L184.2,193.2 L174.8,193.2 L170.0,190.2 Z"/>
<path class="s" style="stroke-width:1.3" d="M170.0,185.5 L175.2,187.8 L183.8,187.8 L189.0,185.5 M175.2,187.8 L174.8,193.2 M183.8,187.8 L184.2,193.2"/>
<path class="s" style="stroke-width:1.5" d="M181.9,184.7 A3.0,3.1 0 1 1 176.7,183.2"/>
<ellipse class="k" cx="179.5" cy="183.6" rx="1.7" ry="1.6"/>
<path class="w" style="stroke-width:1.8" d="M170.5,212.0 A8.5,5.0 0 0 0 187.5,212.0 L187.5,214.5 A8.5,5.0 0 0 1 170.5,214.5 Z"/>
<ellipse class="w" style="stroke-width:1.8" cx="179.0" cy="212.0" rx="8.5" ry="5.0"/>
<path class="s" style="stroke-width:2" d="M182.0,210.5 A3.8,2.7 0 1 1 176.0,210.2"/>
</g>
<g id="sol29">
<path class="w" d="M184,229 L211,249 L211,288 L205,294 L196,292 L196,252 L180,240 Z"/>
<path class="s" style="stroke-width:1.2" d="M186,235 L206,250 L206,286"/>
<ellipse class="s" cx="200.5" cy="252.5" rx="2" ry="2.5" style="stroke-width:1.3"/>
<path class="w" d="M141,252 L166,244 L198,248 L205,259 L205,281 L198,291 L172,291 L152,293.5 Z"/>
<path class="s" style="stroke-width:1.3" d="M169,248 Q171,256 178,257 L196,256 M177,253 L177,258"/>
<path class="w" d="M178,265 L190,259 L204,259 L204,281 L196,290 L178,289 Q176,277 178,265 Z"/>
<path class="s" style="stroke-width:1.3" d="M190,259 Q186,270 190,288"/>
<ellipse class="w" cx="151" cy="272.5" rx="14" ry="21" transform="rotate(-8 151 272.5)"/>
<ellipse class="s" cx="149.5" cy="273" rx="7.5" ry="12.6" transform="rotate(-8 149.5 273)" style="stroke-width:1.3"/>
<ellipse class="s" cx="150" cy="273" rx="4.5" ry="7.5" transform="rotate(-8 150 273)" style="stroke-width:1.3"/>
<path class="s" style="stroke-width:1.1" d="M150,270 L151,276"/>
<ellipse class="k" cx="157.5" cy="265" rx="1" ry="1"/><ellipse class="k" cx="155.5" cy="290" rx="1.1" ry="1"/>
<path class="w" d="M168.5,238 L172,233 L185,233 L188,238 L188,246 Q178,251 168.5,246 Z"/>
<path class="s" style="stroke-width:1.2" d="M168.5,238 L172,242 L185,242 L188,238 M172,242 L172,249 M185,242 L185,249"/>
<path class="w" d="M174.5,225 Q178.5,221 182.5,225 L182.5,234 L174.5,234 Z"/>
<path class="t" d="M175,227h7M175,229.5h7M175,232h7"/>
<path class="w" d="M195,266 L200,263 L205,265 L206,275 L201,278 L195,276 Z"/>
<path class="w" d="M205,267 L210,266 Q213,269 210,273 L205,273 Z"/>
<ellipse class="s" cx="200" cy="270.5" rx="2.5" ry="3.5" style="stroke-width:1.2"/>
<path class="w" d="M185,284 Q188,279 195,281 L198,290 Q195,295 189,294 Z"/>
<path class="w" d="M196,291 L202,294 L201,299 L195,296 Z"/>
<ellipse class="s" cx="191.5" cy="288" rx="2.5" ry="3.5" style="stroke-width:1.2"/>
<path class="w" d="M172,290 L183,290 L181,297 L175,297 Z"/>
<path class="w" d="M175,297 L181,297 L181,304 Q178,305 175,304 Z"/>
<path class="t" d="M175.5,299.5h5M175.5,302h5"/>
</g>
<g id="p22_23">
<ellipse class="w" cx="228.6" cy="264.8" rx="5.3" ry="5.6" style="stroke-width:2.2"/>
<ellipse class="s" cx="229" cy="264.5" rx="2.4" ry="3" style="stroke-width:1.8"/>
<path class="w" style="stroke-width:2.1" d="M241,258 Q244,254.5 250,254.5 Q255.5,255 256,261 Q256,267 250,268.3 Q244,268.5 241.5,265 Q239.5,261 241,258 Z"/>
<path class="s" style="stroke-width:1.6" d="M244.5,256 Q242,261 245,267"/>
<ellipse class="w" cx="250" cy="261" rx="5" ry="5.3" style="stroke-width:1.5"/>
<ellipse class="k" cx="250.3" cy="260.7" rx="3.4" ry="3.7"/>
</g>
<g id="bush18">
<path class="w" d="M70,277.5 L83,272.5 Q97,275 100,292 Q101,309 88,314 L76,316.5 Z"/>
<ellipse class="w" cx="76.5" cy="297" rx="12" ry="19.5" transform="rotate(-12 76.5 297)"/>
<ellipse class="s" cx="77.5" cy="296.5" rx="9.5" ry="17" transform="rotate(-12 77.5 296.5)" style="stroke-width:1.2"/>
<path class="s" style="stroke-width:1.3" d="M75,280 Q86,286 88,312"/>
</g>
<g id="cable25">
<g transform="translate(96,354.5) rotate(-20.5)">
<path class="w" style="stroke-width:1.7" d="M5,-2.2 L13,-2.5 L13,2.5 L5,2.2 Z"/>
<path class="w" style="stroke-width:1.8" d="M12,-4.6 L32,-4.6 L32,4.6 L12,4.6 Q10,0 12,-4.6 Z"/>
<path class="w" style="stroke-width:1.8" d="M31,-3.6 L43,-3.6 Q45.5,0 43,3.6 L31,3.6 Z"/>
<path class="s" style="stroke-width:1.3" d="M14,-4.2 Q16,0 14,4.2 M31.5,-3.5 Q33,0 31.5,3.5 M42,-3 Q40,0 42,3"/>
<path class="w" style="stroke-width:1.8" d="M47,-3.6 L60,-3.6 L60,3.6 L47,3.6 Q45,0 47,-3.6 Z"/>
<path class="w" style="stroke-width:1.8" d="M59,-4.6 L79,-4.6 Q81,0 79,4.6 L59,4.6 Z"/>
<path class="s" style="stroke-width:1.3" d="M49,-3 Q51,0 49,3 M60,-4 Q62,0 60,4"/>
<path class="w" style="stroke-width:1.7" d="M79,-2.2 L84,-2.5 L84,2.5 L79,2.2 Z"/>
</g>
<ellipse class="w" cx="96" cy="355" rx="6.8" ry="5.5" style="stroke-width:2.1"/>
<ellipse class="k" cx="96.5" cy="355" rx="2.4" ry="2"/>
<ellipse class="w" cx="179" cy="323" rx="7.5" ry="6" style="stroke-width:2.1"/>
<ellipse class="k" cx="179" cy="323" rx="2.6" ry="2.2"/>
</g>
<g id="nuts21b">
<path class="w" style="stroke-width:1.8" d="M172.8,345.0 A6.2,4.0 0 0 0 185.2,345.0 L185.2,347.5 A6.2,4.0 0 0 1 172.8,347.5 Z"/>
<ellipse class="w" style="stroke-width:1.8" cx="179.0" cy="345.0" rx="6.2" ry="4.0"/>
<path class="s" style="stroke-width:2" d="M181.2,343.5 A2.8,2.2 0 1 1 176.8,343.2"/>
<path class="w" style="stroke-width:1.8" d="M171.0,362.0 Q171.0,354.0 179.5,354.0 Q188.0,354.0 188.0,362.0 L188.0,366.8 L183.8,370.0 L175.2,370.0 L171.0,366.8 Z"/>
<path class="s" style="stroke-width:1.3" d="M171.0,362.0 L175.7,364.4 L183.3,364.4 L188.0,362.0 M175.7,364.4 L175.2,370.0 M183.3,364.4 L183.8,370.0"/>
<path class="s" style="stroke-width:1.5" d="M181.6,361.2 A2.7,3.2 0 1 1 176.9,359.6"/>
<ellipse class="k" cx="179.5" cy="360.1" rx="1.5" ry="1.6"/>
</g>
<g id="clamp19">
<path class="w" d="M211.3,307 Q208,297 212,292 Q217,289 222,292 Q225,297 223.2,302 Q233,308 240,318 Q245,330 243,343 Q240,351 234,352.5 L230.5,349 L226.6,355.8 L215.8,355.8 Q212,353 213.6,345.6 L221.5,342.2 L231.7,347.9 Q232,333 226,322 Q219,313 211.3,307 Z"/>
<path class="s" style="stroke-width:1.2" d="M221.5,342.2 Q226,346 231.7,347.9"/>
<ellipse class="k" cx="217" cy="299.5" rx="3" ry="3.2"/>
<ellipse fill="#fcfefc" cx="217.3" cy="299" rx="1.3" ry="1.4"/>
<ellipse class="k" cx="238.5" cy="338.3" rx="0.9" ry="0.9"/>
</g>
<g id="screw20">
<path class="w" d="M247.5,319 L261,327.5 L258,334 L245,324.5 Q244,320 247.5,319 Z"/>
<path class="t" style="stroke-width:1.1" d="M249,321.5 L247.5,325 M251.5,323 L250,327 M254,324.5 L252.5,328.5 M256.5,326 L255,330"/>
<ellipse class="w" cx="266.5" cy="331.5" rx="7" ry="8"/>
<path class="s" d="M261.6,327 L268,338" style="stroke-width:1.4"/>
<path class="s" d="M260,326 Q257,331 261,338" style="stroke-width:1.3"/>
</g>
<!-- LABELS -->
<g class="lb">
<text transform="translate(67.93,38.70) scale(1.03,0.97)">2</text>
<text transform="translate(80.26,38.70) scale(1.03,0.97)">7</text>
<text transform="translate(226.03,160.70) scale(1.03,0.97)">2</text>
<path class="k" d="M242.76,160.70 L246.16,160.70 L246.16,146.30 L243.96,146.30 Q242.96,148.70 239.56,148.90 L239.56,151.50 L242.76,151.30 Z"/>
<text transform="translate(116.53,179.50) scale(1.03,0.97)">2</text>
<text transform="translate(128.86,179.50) scale(1.03,0.97)">4</text>
<text transform="translate(86.33,212.80) scale(1.03,0.97)">2</text>
<text transform="translate(98.66,212.80) scale(1.03,0.97)">9</text>
<path class="k" d="M56.20,231.00 L59.60,231.00 L59.60,216.60 L57.40,216.60 Q56.40,219.00 53.00,219.20 L53.00,221.80 L56.20,221.60 Z"/>
<text transform="translate(63.00,231.00) scale(1.03,0.97)">8</text>
<text transform="translate(223.03,219.00) scale(1.03,0.97)">2</text>
<text transform="translate(235.36,219.00) scale(1.03,0.97)">2</text>
<text transform="translate(259.03,219.00) scale(1.03,0.97)">2</text>
<text transform="translate(271.36,219.00) scale(1.03,0.97)">3</text>
<text transform="translate(28.03,349.00) scale(1.03,0.97)">2</text>
<text transform="translate(40.36,349.00) scale(1.03,0.97)">5</text>
<text transform="translate(110.03,390.00) scale(1.03,0.97)">2</text>
<text transform="translate(122.36,390.00) scale(1.03,0.97)">4</text>
<text transform="translate(128.03,412.00) scale(1.03,0.97)">2</text>
<path class="k" d="M144.76,412.00 L148.16,412.00 L148.16,397.60 L145.96,397.60 Q144.96,400.00 141.56,400.20 L141.56,402.80 L144.76,402.60 Z"/>
<path class="k" d="M239.70,402.40 L243.10,402.40 L243.10,388.00 L240.90,388.00 Q239.90,390.40 236.50,390.60 L236.50,393.20 L239.70,393.00 Z"/>
<text transform="translate(246.50,402.40) scale(1.03,0.97)">9</text>
<text transform="translate(282.33,385.40) scale(1.03,0.97)">2</text>
<text transform="translate(294.66,385.40) scale(1.03,0.97)">0</text>
<text transform="translate(624.03,130.00) scale(1.03,0.97)">5</text>
<path class="k" d="M845.60,83.60 L849.00,83.60 L849.00,69.20 L846.80,69.20 Q845.80,71.60 842.40,71.80 L842.40,74.40 L845.60,74.20 Z"/>
<text transform="translate(845.73,209.00) scale(1.03,0.97)">4</text>
<text transform="translate(625.03,248.00) scale(1.03,0.97)">6</text>
<text transform="translate(845.03,244.30) scale(1.03,0.97)">7</text>
<text transform="translate(837.03,385.00) scale(1.03,0.97)">8</text>
<text transform="translate(525.03,297.00) scale(1.03,0.97)">2</text>
<text transform="translate(537.36,297.00) scale(1.03,0.97)">8</text>
<text transform="translate(563.03,316.00) scale(1.03,0.97)">2</text>
<text transform="translate(575.36,316.00) scale(1.03,0.97)">6</text>
<path class="k" d="M581.20,407.00 L584.60,407.00 L584.60,392.60 L582.40,392.60 Q581.40,395.00 578.00,395.20 L578.00,397.80 L581.20,397.60 Z"/>
<text transform="translate(588.00,407.00) scale(1.03,0.97)">2</text>
<path class="k" d="M485.20,497.00 L488.60,497.00 L488.60,482.60 L486.40,482.60 Q485.40,485.00 482.00,485.20 L482.00,487.80 L485.20,487.60 Z"/>
<path class="k" d="M496.40,497.00 L499.80,497.00 L499.80,482.60 L497.60,482.60 Q496.60,485.00 493.20,485.20 L493.20,487.80 L496.40,487.60 Z"/>
<path class="k" d="M276.20,448.00 L279.60,448.00 L279.60,433.60 L277.40,433.60 Q276.40,436.00 273.00,436.20 L273.00,438.80 L276.20,438.60 Z"/>
<path class="k" d="M287.40,448.00 L290.80,448.00 L290.80,433.60 L288.60,433.60 Q287.60,436.00 284.20,436.20 L284.20,438.80 L287.40,438.60 Z"/>
<text transform="translate(441.03,527.00) scale(1.03,0.97)">9</text>
<text transform="translate(833.03,520.00) scale(1.03,0.97)">3</text>
<path class="k" d="M278.20,581.00 L281.60,581.00 L281.60,566.60 L279.40,566.60 Q278.40,569.00 275.00,569.20 L275.00,571.80 L278.20,571.60 Z"/>
<text transform="translate(285.00,581.00) scale(1.03,0.97)">3</text>
<path class="k" d="M609.40,616.80 L612.80,616.80 L612.80,602.40 L610.60,602.40 Q609.60,604.80 606.20,605.00 L606.20,607.60 L609.40,607.40 Z"/>
<text transform="translate(616.20,616.80) scale(1.03,0.97)">6</text>
<path class="k" d="M244.20,649.00 L247.60,649.00 L247.60,634.60 L245.40,634.60 Q244.40,637.00 241.00,637.20 L241.00,639.80 L244.20,639.60 Z"/>
<text transform="translate(251.00,649.00) scale(1.03,0.97)">7</text>
<path class="k" d="M467.20,723.50 L470.60,723.50 L470.60,709.10 L468.40,709.10 Q467.40,711.50 464.00,711.70 L464.00,714.30 L467.20,714.10 Z"/>
<text transform="translate(474.00,723.50) scale(1.03,0.97)">4</text>
<path class="k" d="M490.20,731.50 L493.60,731.50 L493.60,717.10 L491.40,717.10 Q490.40,719.50 487.00,719.70 L487.00,722.30 L490.20,722.10 Z"/>
<text transform="translate(497.00,731.50) scale(1.03,0.97)">5</text>
<path class="k" d="M518.70,736.00 L522.10,736.00 L522.10,721.60 L519.90,721.60 Q518.90,724.00 515.50,724.20 L515.50,726.80 L518.70,726.60 Z"/>
<text transform="translate(525.50,736.00) scale(1.03,0.97)">0</text>
</g>
<!-- LEADERS -->
<g class="ld">
<path d="M94,38 L123,48"/>
<path d="M193.5,138.4 L222.3,156 L192.7,178.3"/>
<path d="M167.5,164 L147.5,176 L170,204.5"/>
<path d="M111,215 L140,247.5"/>
<path d="M66,235 L74,272.5"/>
<path d="M234,223 L229,255"/>
<path d="M269,222.5 L254,249"/>
<path d="M56,344.7 L87.5,350"/>
<path d="M137,374 L168,350"/>
<path d="M152,394.4 L169,371"/>
<path d="M234,357 L243,381"/>
<path d="M274,340 L290,367"/>
<path d="M640,122.4 L680,122.4"/>
<path d="M781,46.7 L832.5,76.6 L788,73 M832.5,76.6 L783.4,111.3"/>
<path d="M805,196.7 L841,200.7"/>
<path d="M640,240.7 L673,243"/>
<path d="M812,268.7 L842.7,246"/>
<path d="M794.5,378.7 L831.8,378.7"/>
<path d="M538,301 L525.6,320"/>
<path d="M574,320 L565,341"/>
<path d="M590,411 L587,431"/>
<path d="M504.5,486.5 L526,457 M504.5,486.5 L523,490.5"/>
<path d="M282,452 L270,477"/>
<path d="M484,547 L453,532 L447,577"/>
<path d="M830.8,520.9 L799.7,543.6"/>
<path d="M299,567 L323,548"/>
<path d="M580,588 L603,600"/>
<path d="M200.5,643 L239.5,643"/>
<path d="M490,677 L477,704.4"/>
<path d="M514,686 L501,713"/>
<path d="M540,692 L527.5,719.6"/>
</g>

</svg>
</body></html>
